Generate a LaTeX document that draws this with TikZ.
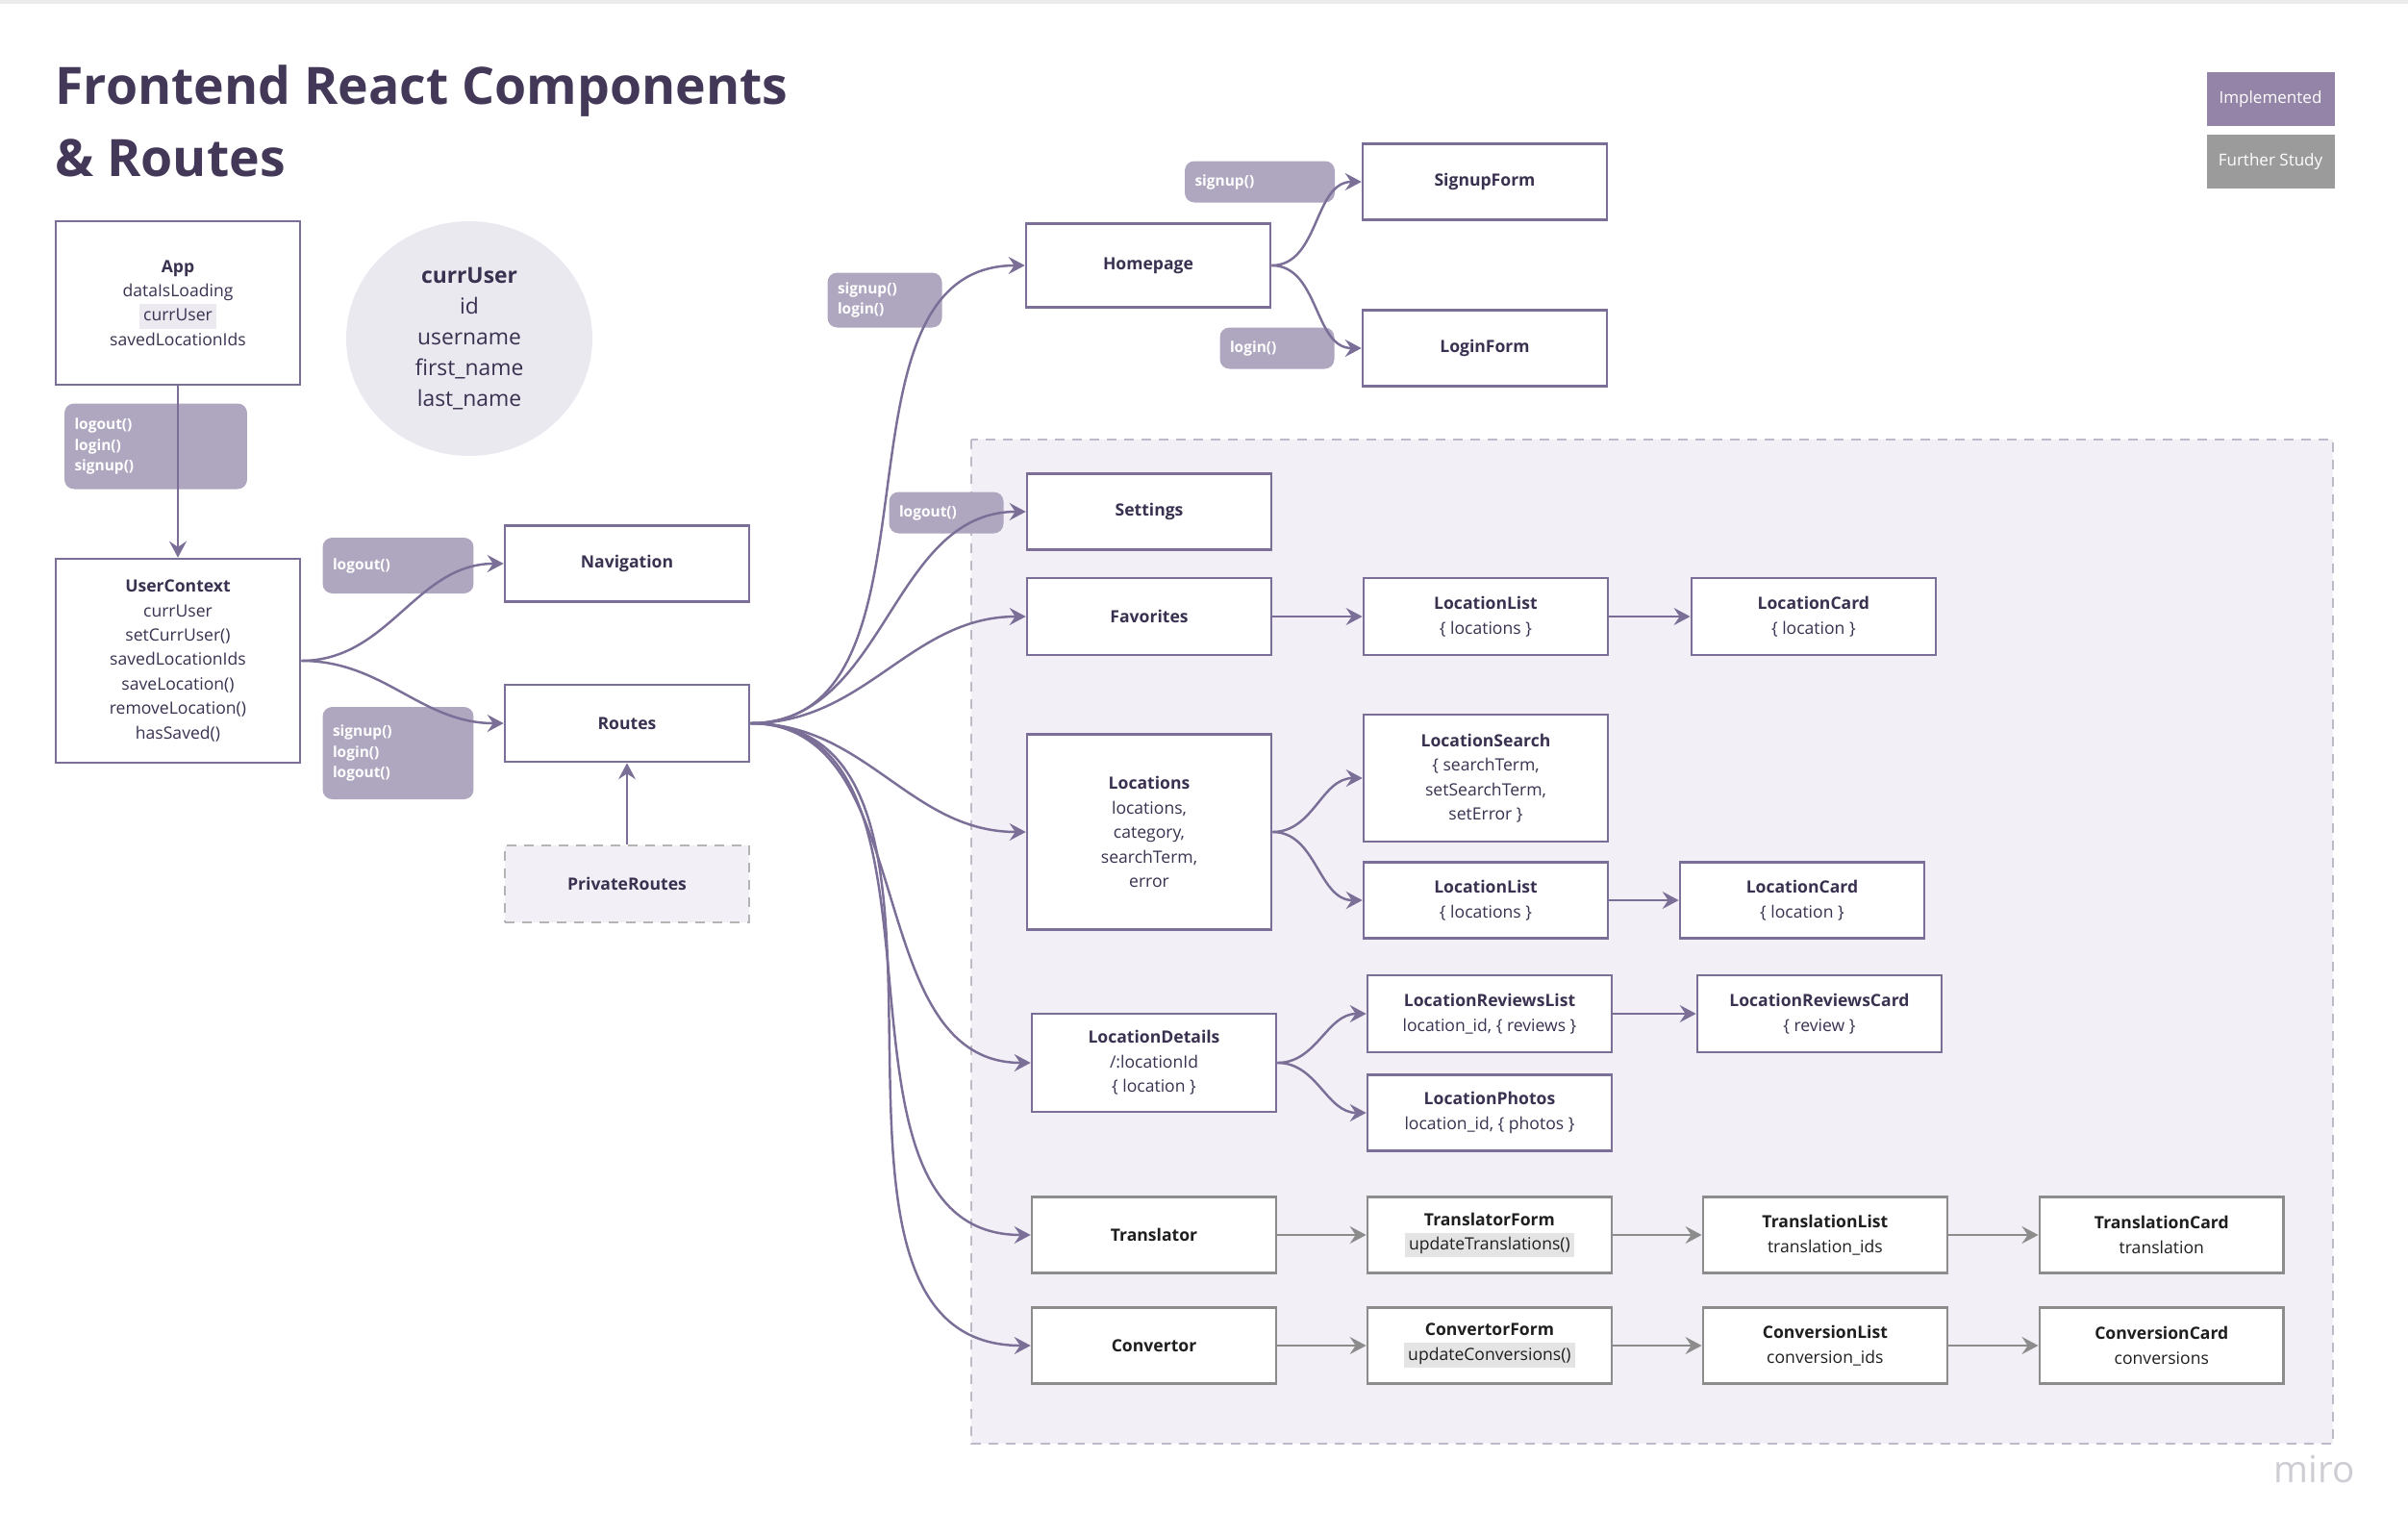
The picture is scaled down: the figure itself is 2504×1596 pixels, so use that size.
\documentclass[tikz,border=0pt]{standalone}
\usepackage{fontspec}
\setmainfont{Open Sans}
\usepackage{tikz}
\usetikzlibrary{arrows.meta,calc,positioning,shapes.geometric}
\definecolor{titleink}{HTML}{433858}
\definecolor{compink}{HTML}{3A3150}
\definecolor{compline}{HTML}{7B6F98}
\definecolor{labelfill}{HTML}{AFA6C0}
\definecolor{implfill}{HTML}{9485A8}
\definecolor{furtherfill}{HTML}{9B9B9B}
\definecolor{userfill}{HTML}{EBE9F0}
\definecolor{zonefill}{HTML}{F2F0F6}
\definecolor{zoneline}{HTML}{BFBAC9}
\definecolor{plannedline}{HTML}{B4B4B4}
\definecolor{greyline}{HTML}{8C8C8C}
\definecolor{greyink}{HTML}{1E1E1E}
\definecolor{hlpurple}{HTML}{ECE9F1}
\definecolor{hlgrey}{HTML}{E4E4E4}
\definecolor{miroink}{HTML}{CDCDD3}
\newcommand{\hilite}[2]{{\setlength{\fboxsep}{0pt}\colorbox{#1}{\hspace{2.5pt}\strut#2\hspace{2.5pt}}}}
\tikzstyle{arrow}=[
  color=compline,
  draw=compline,
  line width=1.4pt,
  ->,
]
\tikzstyle{greyarrow}=[
  arrow,
  color=greyline,
  draw=greyline,
]
\tikzstyle{comp}=[
  rectangle,
  draw=compline,
  fill=white,
  line width=1.5pt,
  text=compink,
  font={\fontsize{10}{14.5}\selectfont},
  align=center,
  inner sep=0pt,
  minimum width=5.08cm,
  minimum height=1.58cm,
]
\tikzstyle{greycomp}=[
  comp,
  draw=greyline,
  text=greyink,
]
\tikzstyle{planned}=[
  comp,
  fill=zonefill,
  draw=plannedline,
  dash pattern=on 0.2cm off 0.16cm,
]
\tikzstyle{tag}=[
  rectangle,
  rounded corners=0.2cm,
  fill=labelfill,
  text=white,
  font={\fontsize{8.8}{12.3}\selectfont\bfseries},
  align=left,
  inner xsep=0.21cm,
  inner ysep=0pt,
]
\tikzstyle{legendbox}=[
  rectangle,
  text=white,
  font={\fontsize{9.7}{12}\selectfont},
  minimum width=2.66cm,
  minimum height=1.12cm,
  inner sep=0pt,
]
\tikzstyle{titletext}=[
  text=titleink,
  font={\fontsize{30.5}{40}\selectfont\bfseries},
  inner sep=0pt,
  anchor=base west,
]
\tikzset{
  node distance=7cm,
  >={Stealth[length=0.34cm,width=0.36cm,inset=0.12cm]},
}

\begin{document}
\begin{tikzpicture}[x=0.02cm, y=-0.02cm]
      \useasboundingbox (0,0) rectangle (2504,1596);
      \fill [color=black!8] (0,0) rectangle (2504,4);
      % title and legend
      \node [titletext] (TITLE) at (57,108) {Frontend React Components};
      \node [titletext] (TITLESUB) at (57,183) {\& Routes};
      \node [legendbox, fill=implfill] (IMPL) at (2361,103) {Implemented};
      \node [legendbox, fill=furtherfill] (FURTHER) at (2361,168) {Further Study};
      % routed area
      \draw [fill=zonefill, draw=zoneline, line width=1.4pt, dash pattern=on 0.2cm off 0.16cm]
        (1010,457) rectangle (2426,1501);
      % passed functions
      \node [tag, text width=3.38cm, minimum height=1.78cm] (LBLAPP) at (162,464) {logout()\\login()\\signup()};
      \node [tag, text width=2.72cm, minimum height=1.16cm] (LBLNAV) at (414,588) {logout()};
      \node [tag, text width=2.72cm, minimum height=1.92cm] (LBLROUTES) at (414,783) {signup()\\login()\\logout()};
      \node [tag, text width=2.7cm, minimum height=0.86cm] (LBLSIGNUP) at (1310,189) {signup()};
      \node [tag, text width=1.96cm, minimum height=0.86cm] (LBLLOGIN) at (1328,362) {login()};
      \node [tag, text width=1.96cm, minimum height=1.14cm] (LBLHOME) at (920,312) {signup()\\login()};
      \node [tag, text width=1.96cm, minimum height=0.86cm] (LBLSETTINGS) at (984,533) {logout()};
      % app and context
      \node [comp, minimum height=3.4cm] (APP) at (185,315) {\textbf{App}\\dataIsLoading\\\hilite{hlpurple}{currUser}\\savedLocationIds};
      \node [ellipse, fill=userfill, minimum width=5.12cm, minimum height=4.88cm, inner sep=0pt, align=center,
        text=compink, font={\fontsize{13}{18.1}\selectfont}] (CURRUSER) at (488,352)
        {\textbf{currUser}\\id\\username\\first\_name\\last\_name};
      \node [comp, minimum height=4.24cm] (USERCTX) at (185,687) {\textbf{UserContext}\\currUser\\setCurrUser()\\savedLocationIds\\saveLocation()\\removeLocation()\\hasSaved()};
      \node [comp] (NAV) at (652,586) {\textbf{Navigation}};
      \node [comp, minimum height=1.6cm] (ROUTES) at (652,752) {\textbf{Routes}};
      \node [planned, minimum height=1.6cm] (PRIVATE) at (652,919) {\textbf{PrivateRoutes}};
      % pages
      \node [comp, minimum height=1.74cm] (HOME) at (1194,276) {\textbf{Homepage}};
      \node [comp] (SIGNUP) at (1544,189) {\textbf{SignupForm}};
      \node [comp] (LOGIN) at (1544,362) {\textbf{LoginForm}};
      \node [comp] (SETTINGS) at (1195,532) {\textbf{Settings}};
      \node [comp, minimum height=1.6cm] (FAVS) at (1195,641) {\textbf{Favorites}};
      \node [comp, minimum height=1.6cm, right of=FAVS] (FAVLIST) {\textbf{LocationList}\\\{ locations \}};
      \node [comp, minimum height=1.6cm, right of=FAVLIST, node distance=6.82cm] (FAVCARD) {\textbf{LocationCard}\\\{ location \}};
      \node [comp, minimum height=4.06cm] (LOCS) at (1195,865) {\textbf{Locations}\\locations,\\category,\\searchTerm,\\error};
      \node [comp, minimum height=2.64cm] (LOCSEARCH) at (1545,809) {\textbf{LocationSearch}\\\{ searchTerm,\\setSearchTerm,\\setError \}};
      \node [comp] (LOCLIST) at (1545,936) {\textbf{LocationList}\\\{ locations \}};
      \node [comp, right of=LOCLIST, node distance=6.58cm] (LOCCARD) {\textbf{LocationCard}\\\{ location \}};
      \node [comp, minimum height=2.04cm] (DETAILS) at (1200,1105) {\textbf{LocationDetails}\\/:locationId\\\{ location \}};
      \node [comp, minimum height=1.6cm] (REVLIST) at (1549,1054) {\textbf{LocationReviewsList}\\location\_id, \{ reviews \}};
      \node [comp, minimum height=1.6cm, right of=REVLIST, node distance=6.86cm] (REVCARD) {\textbf{LocationReviewsCard}\\\{ review \}};
      \node [comp] (PHOTOS) at (1549,1157) {\textbf{LocationPhotos}\\location\_id, \{ photos \}};
      % further study
      \node [greycomp] (TRANS) at (1200,1284) {\textbf{Translator}};
      \node [greycomp, right of=TRANS, node distance=6.98cm] (TRANSFORM) {\textbf{TranslatorForm}\\\hilite{hlgrey}{updateTranslations()}};
      \node [greycomp, right of=TRANSFORM, node distance=6.98cm] (TRANSLIST) {\textbf{TranslationList}\\translation\_ids};
      \node [greycomp, right of=TRANSLIST] (TRANSCARD) {\textbf{TranslationCard}\\translation};
      \node [greycomp] (CONV) at (1200,1399) {\textbf{Convertor}};
      \node [greycomp, right of=CONV, node distance=6.98cm] (CONVFORM) {\textbf{ConvertorForm}\\\hilite{hlgrey}{updateConversions()}};
      \node [greycomp, right of=CONVFORM, node distance=6.98cm] (CONVLIST) {\textbf{ConversionList}\\conversion\_ids};
      \node [greycomp, right of=CONVLIST] (CONVCARD) {\textbf{ConversionCard}\\conversions};
      \node [text=miroink, font={\fontsize{22}{24}\selectfont}, inner sep=0pt] (MIRO) at (2407,1527) {miro};
      % connectors
      \draw [arrow] (APP) -- (USERCTX);
      \draw [arrow] (USERCTX.east) to [out=0, in=180] (NAV.west);
      \draw [arrow] (USERCTX.east) to [out=0, in=180] (ROUTES.west);
      \draw [arrow] (PRIVATE) -- (ROUTES);
      \draw [arrow] (ROUTES.east) to [out=0, in=180] (HOME.west);
      \draw [arrow] (ROUTES.east) to [out=0, in=180] (SETTINGS.west);
      \draw [arrow] (ROUTES.east) to [out=0, in=180] (FAVS.west);
      \draw [arrow] (ROUTES.east) to [out=0, in=180] (LOCS.west);
      \draw [arrow] (ROUTES.east) to [out=0, in=180] (DETAILS.west);
      \draw [arrow] (ROUTES.east) to [out=0, in=180] (TRANS.west);
      \draw [arrow] (ROUTES.east) to [out=0, in=180] (CONV.west);
      \draw [arrow] (HOME.east) to [out=0, in=180] (SIGNUP.west);
      \draw [arrow] (HOME.east) to [out=0, in=180] (LOGIN.west);
      \draw [arrow] (FAVS) -- (FAVLIST);
      \draw [arrow] (FAVLIST) -- (FAVCARD);
      \draw [arrow] (LOCS.east) to [out=0, in=180] (LOCSEARCH.west);
      \draw [arrow] (LOCS.east) to [out=0, in=180] (LOCLIST.west);
      \draw [arrow] (LOCLIST) -- (LOCCARD);
      \draw [arrow] (DETAILS.east) to [out=0, in=180] (REVLIST.west);
      \draw [arrow] (DETAILS.east) to [out=0, in=180] (PHOTOS.west);
      \draw [arrow] (REVLIST) -- (REVCARD);
      \draw [greyarrow] (TRANS) -- (TRANSFORM);
      \draw [greyarrow] (TRANSFORM) -- (TRANSLIST);
      \draw [greyarrow] (TRANSLIST) -- (TRANSCARD);
      \draw [greyarrow] (CONV) -- (CONVFORM);
      \draw [greyarrow] (CONVFORM) -- (CONVLIST);
      \draw [greyarrow] (CONVLIST) -- (CONVCARD);
    \end{tikzpicture}
\end{document}
